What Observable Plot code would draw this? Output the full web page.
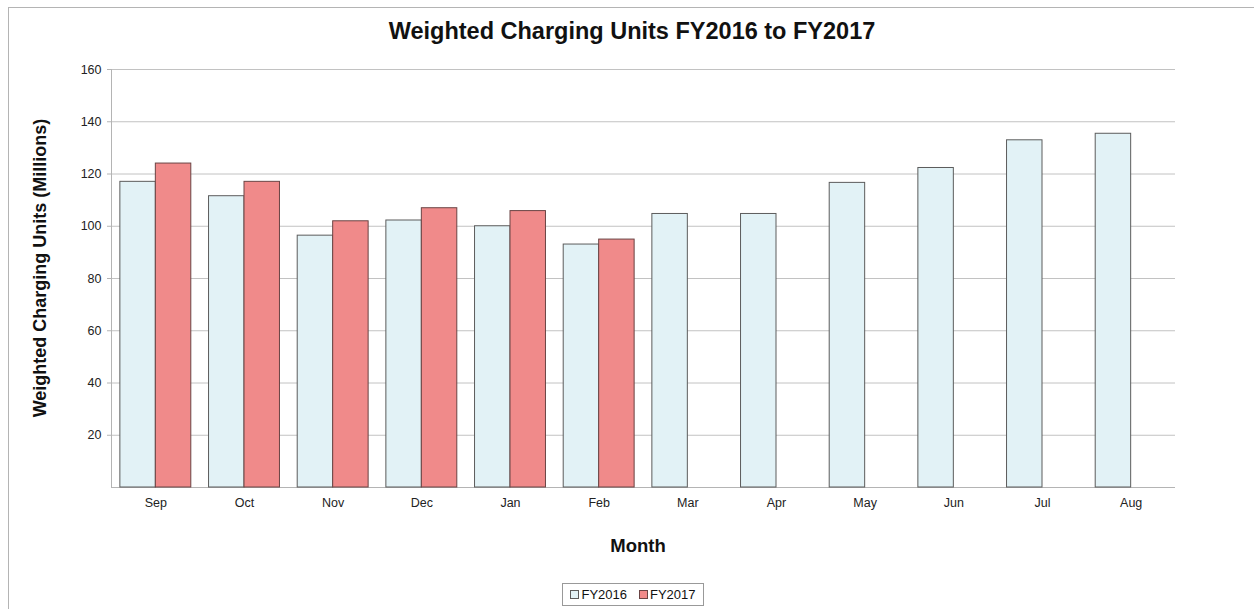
<!DOCTYPE html>
<html><head><meta charset="utf-8">
<script src="https://cdn.jsdelivr.net/npm/d3@7"></script>
<script src="https://cdn.jsdelivr.net/npm/@observablehq/plot@0.6"></script>
<style>
body{margin:0;background:#fff;font-family:"Liberation Sans",Arial,sans-serif;color:#111}
#wrap{position:relative;width:1254px;height:609px;overflow:hidden;background:#fff}
#border{position:absolute;left:8px;top:7px;width:1300px;height:700px;border:1px solid #b4b4b4}
#chart{position:absolute;left:0;top:0}
#title{position:absolute;left:0;top:18px;width:1264px;text-align:center;font-weight:bold;font-size:23.5px}
#ylabel{position:absolute;left:40px;top:268px;transform:translate(-50%,-50%) rotate(-90deg);white-space:nowrap;font-weight:bold;font-size:18px}
#xlabel{position:absolute;left:0;top:535px;width:1276px;text-align:center;font-weight:bold;font-size:18.5px}
#legend{position:absolute;left:562px;top:583px;width:142px;height:23px;border:1px solid #999;box-sizing:border-box;font-size:13px;display:flex;align-items:center;justify-content:center;gap:12px}
#legend .sw{display:inline-block;width:7px;height:7px;border:1px solid #555;margin-right:2px;vertical-align:middle;position:relative;top:-1px}
</style></head><body>
<div id="wrap">
  <div id="border"></div>
  <div id="chart"></div>
  <div id="title">Weighted Charging Units FY2016 to FY2017</div>
  <div id="ylabel">Weighted Charging Units (Millions)</div>
  <div id="xlabel">Month</div>
  <div id="legend"></div>
</div>
<script>
const months = ["Sep","Oct","Nov","Dec","Jan","Feb","Mar","Apr","May","Jun","Jul","Aug"];
const fy2016 = [117.0, 111.5, 96.4, 102.2, 100.0, 93.0, 104.7, 104.7, 116.6, 122.3, 132.9, 135.4];
const fy2017 = [124.0, 117.0, 101.9, 106.9, 105.8, 94.9];
const seriesNames = ["FY2016", "FY2017"];
const yTicks = [20, 40, 60, 80, 100, 120, 140, 160];

const fills = {FY2016: "#e2f2f6", FY2017: "#f08a8a"};
const strokes = {FY2016: "#5c5c5c", FY2017: "#6a4444"};
const barWidth = 0.4; // fraction of a month step per series bar

const rows16 = fy2016.map((v, i) => ({month: months[i], i, series: "FY2016", value: v}));
const rows17 = fy2017.map((v, i) => ({month: months[i], i, series: "FY2017", value: v}));

const chart = Plot.plot({
  width: 1254, height: 609,
  marginLeft: 111, marginRight: 79, marginTop: 69, marginBottom: 122,
  style: {fontFamily: '"Liberation Sans", Arial, sans-serif', fontSize: "12.5px", color: "#222", background: "transparent"},
  x: {domain: [-0.5, months.length - 0.5], axis: null},
  y: {domain: [0, 160], axis: null},
  marks: [
    Plot.gridY(yTicks, {stroke: "#c2c2c2", strokeOpacity: 1}),
    Plot.ruleY([0], {stroke: "#b4b4b4"}),
    Plot.ruleX([-0.5], {stroke: "#b4b4b4"}),
    Plot.rect(rows16, {x1: d => d.i - barWidth, x2: d => d.i, y1: () => 0, y2: "value", fill: fills.FY2016, stroke: strokes.FY2016, strokeWidth: 1}),
    Plot.rect(rows17, {x1: d => d.i, x2: d => d.i + barWidth, y1: () => 0, y2: "value", fill: fills.FY2017, stroke: strokes.FY2017, strokeWidth: 1}),
    Plot.axisY({ticks: yTicks, tickSize: 4, tickPadding: 6, stroke: "#b4b4b4", label: null}),
    Plot.axisX({ticks: months.map((_, i) => i), tickFormat: i => months[i], tickSize: 0, tickPadding: 11, label: null})
  ]
});
document.getElementById("chart").appendChild(chart);

const legend = document.getElementById("legend");
seriesNames.forEach(s => {
  const item = document.createElement("span");
  const sw = document.createElement("span");
  sw.className = "sw";
  sw.style.background = fills[s];
  sw.style.borderColor = strokes[s];
  item.appendChild(sw);
  item.appendChild(document.createTextNode(s));
  legend.appendChild(item);
});
</script>
</body></html>
